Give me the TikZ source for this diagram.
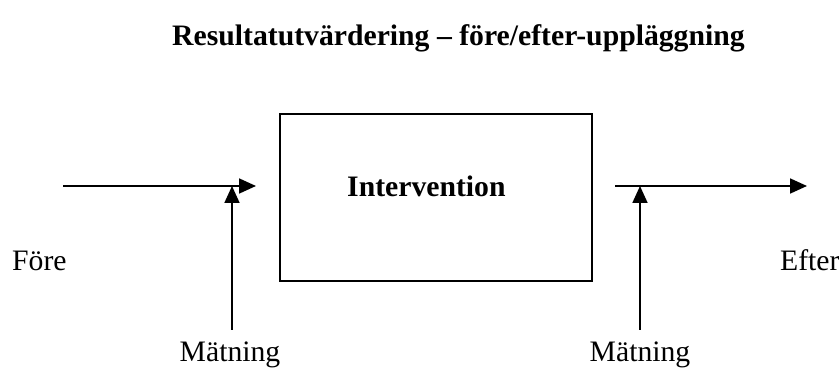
\documentclass[tikz,border=0pt]{standalone}
\usepackage{fontspec}
\setmainfont{Liberation Serif}
\usetikzlibrary{arrows.meta}
\begin{document}
\begin{tikzpicture}[x=1pt,y=-1pt,
  lbl/.style={inner sep=0pt,anchor=base west,font=\fontsize{29.7}{34}\selectfont},
  bold/.style={lbl,font=\fontsize{29.7}{34}\selectfont\bfseries},
  conn/.style={line width=1.8pt,-{Triangle[length=17pt,width=15pt]}},
  boxst/.style={draw,line width=1.8pt,inner sep=0pt,minimum width=312pt,minimum height=167pt}]
\useasboundingbox (0,0) rectangle (839,371);
\node[bold] (title) at (172,46) {Resultatutvärdering – före/efter-uppläggning};
\node[boxst] (box) at (436,197.5) {};
\node[bold] (int) at (347,197) {Intervention};
\node[lbl] (fore) at (12,271) {Före};
\node[lbl] (efter) at (780,271) {Efter};
\node[lbl,anchor=base] (m1) at (230,362) {Mätning};
\node[lbl,anchor=base] (m2) at (640,362) {Mätning};
\coordinate (a1s) at (63,186);
\coordinate (a1e) at (256,186);
\coordinate (v1s) at (232,330);
\coordinate (v1e) at (232,186);
\coordinate (a2s) at (615,186);
\coordinate (a2e) at (807,186);
\coordinate (v2s) at (640,330);
\coordinate (v2e) at (640,186);
\draw[conn] (a1s) -- (a1e);
\draw[conn] (v1s) -- (v1e);
\draw[conn] (a2s) -- (a2e);
\draw[conn] (v2s) -- (v2e);
\end{tikzpicture}
\end{document}
